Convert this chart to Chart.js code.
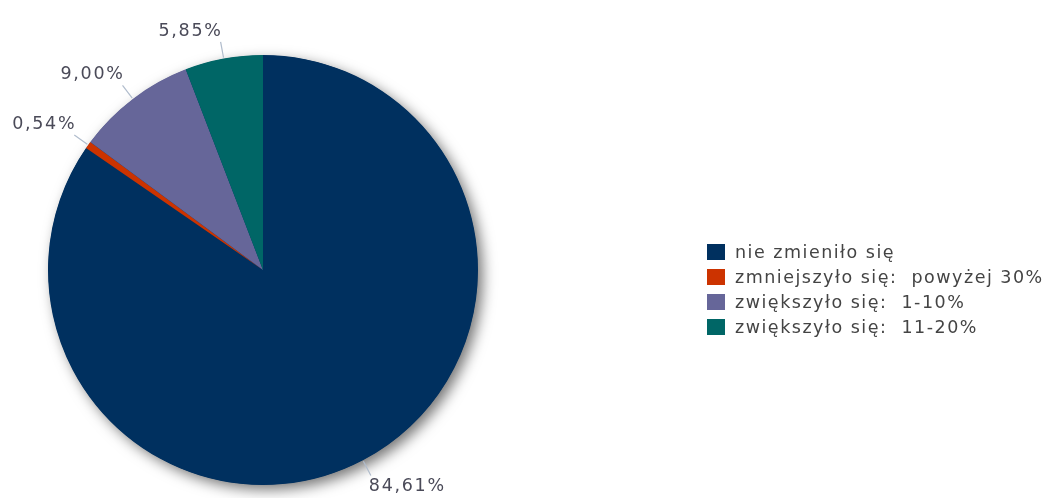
<!DOCTYPE html>
<html>
<head>
<meta charset="utf-8">
<title>Zmiana</title>
<script src="https://cdn.jsdelivr.net/npm/chart.js"></script>
<style>
  body { margin: 0; background: #fff; }
  #wrap { position: relative; width: 1048px; height: 498px; }
  #legend {
    position: absolute; left: 707px; top: 239px;
    font-family: "DejaVu Sans", sans-serif; font-size: 17.5px; letter-spacing: 1.5px;
    color: #444;
  }
  .row { height: 25px; display: flex; align-items: center; white-space: pre; }
  .box { width: 18px; height: 16px; margin-right: 10px; flex: none; }
</style>
</head>
<body>
<div id="wrap">
  <canvas id="pie" width="1048" height="498"></canvas>
  <div id="legend"></div>
</div>
<script>
// dane
const categories = ['nie zmieniło się', 'zmniejszyło się:  powyżej 30%', 'zwiększyło się:  1-10%', 'zwiększyło się:  11-20%'];
const values = [84.61, 0.54, 9.00, 5.85];
const valueLabels = ['84,61%', '0,54%', '9,00%', '5,85%'];
const colors = ['#00305f', '#cc3300', '#666699', '#006666'];

// legenda
const legend = document.getElementById('legend');
categories.forEach((c, i) => {
  const row = document.createElement('div');
  row.className = 'row';
  row.innerHTML = '<span class="box" style="background:' + colors[i] + '"></span><span></span>';
  row.lastChild.textContent = c;
  legend.appendChild(row);
});

// cień pod kołem (jedno koło, bez cieni między wycinkami)
const shadowPlugin = {
  id: 'shadow',
  beforeDatasetsDraw(chart) {
    const a = chart.getDatasetMeta(0).data[0];
    const ctx = chart.ctx;
    ctx.save();
    ctx.shadowColor = 'rgba(0,0,0,0.55)';
    ctx.shadowBlur = 14;
    ctx.shadowOffsetX = 5;
    ctx.shadowOffsetY = 5;
    ctx.fillStyle = colors[0];
    ctx.beginPath();
    ctx.arc(a.x, a.y, a.outerRadius - 0.5, 0, Math.PI * 2);
    ctx.fill();
    ctx.restore();
  }
};

// etykiety z liniami
const labelPlugin = {
  id: 'outLabels',
  afterDraw(chart) {
    const ctx = chart.ctx;
    const arcs = chart.getDatasetMeta(0).data;
    ctx.save();
    ctx.font = '17.5px "DejaVu Sans", sans-serif';
    ctx.letterSpacing = '1.7px';
    ctx.fillStyle = '#4a4a58';
    ctx.strokeStyle = '#b0bccc';
    ctx.lineWidth = 1.2;
    arcs.forEach((a, i) => {
      const mid = (a.startAngle + a.endAngle) / 2;
      const r = a.outerRadius;
      const x1 = a.x + Math.cos(mid) * (r + 1);
      const y1 = a.y + Math.sin(mid) * (r + 1);
      const x2 = a.x + Math.cos(mid) * (r + 17);
      const y2 = a.y + Math.sin(mid) * (r + 17);
      ctx.beginPath();
      ctx.moveTo(x1, y1);
      ctx.lineTo(x2, y2);
      ctx.stroke();
      const right = Math.cos(mid) >= 0;
      const below = Math.sin(mid) >= 0;
      ctx.textAlign = right ? 'left' : 'right';
      ctx.textBaseline = below ? 'top' : 'bottom';
      ctx.fillText(valueLabels[i], x2 + (right ? -2 : 2), y2 + (below ? 2 : -2));
    });
    ctx.restore();
  }
};

new Chart(document.getElementById('pie'), {
  type: 'pie',
  data: {
    labels: categories,
    datasets: [{
      data: values,
      backgroundColor: colors,
      borderWidth: 0
    }]
  },
  options: {
    responsive: false,
    animation: false,
    layout: { padding: { left: 48, right: 570, top: 55, bottom: 13 } },
    plugins: { legend: { display: false }, tooltip: { enabled: false } }
  },
  plugins: [shadowPlugin, labelPlugin]
});
</script>
</body>
</html>
